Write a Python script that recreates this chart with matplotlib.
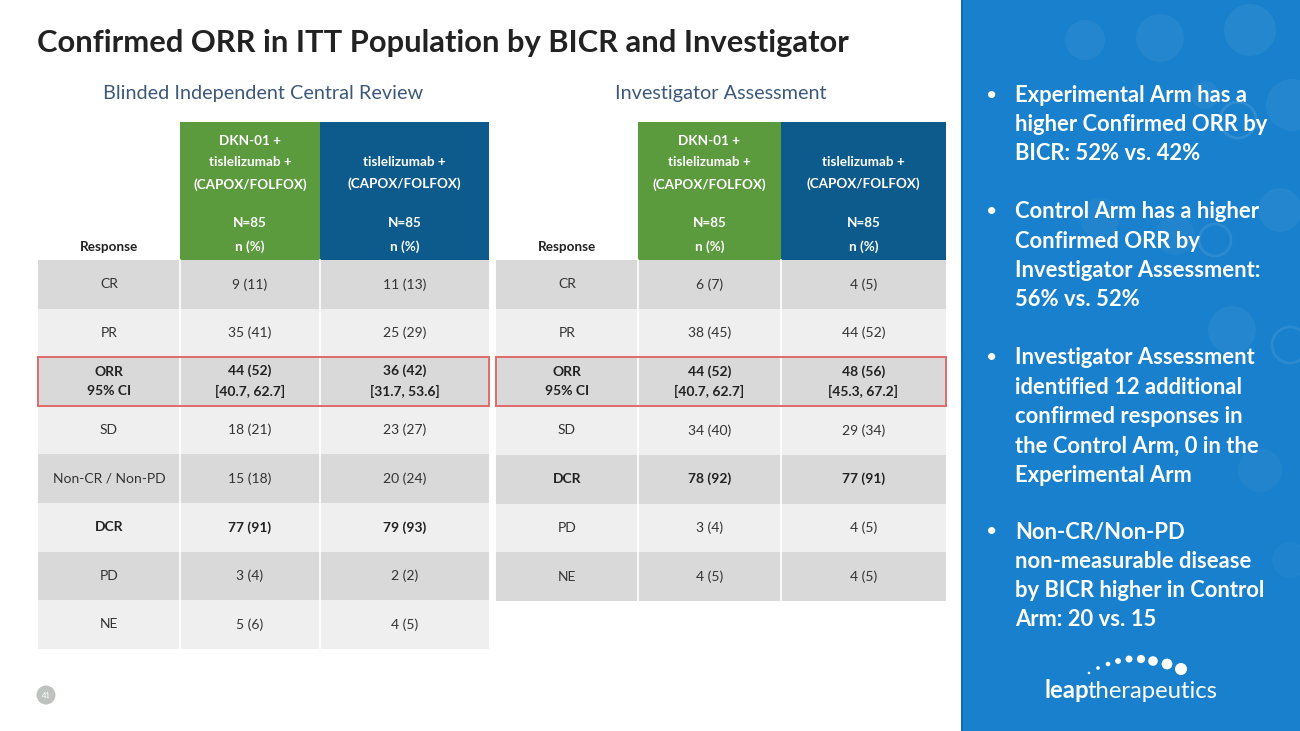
import matplotlib
matplotlib.use("Agg")
import matplotlib.pyplot as plt
from matplotlib.patches import Rectangle, Circle

FONT = ["Lato", "DejaVu Sans"]
plt.rcParams["font.family"] = FONT

# ---------------- data ----------------
title = "Confirmed ORR in ITT Population by BICR and Investigator"
panel_titles = ["Blinded Independent Central Review", "Investigator Assessment"]
header_exp = "DKN-01 +\ntislelizumab +\n(CAPOX/FOLFOX)"
header_ctl = "tislelizumab +\n(CAPOX/FOLFOX)"
header_n = "N=85\nn (%)"

bicr_rows = ["CR", "PR", "ORR\n95% CI", "SD", "Non-CR / Non-PD", "DCR", "PD", "NE"]
bicr_exp = ["9 (11)", "35 (41)", "44 (52)\n[40.7, 62.7]", "18 (21)", "15 (18)", "77 (91)", "3 (4)", "5 (6)"]
bicr_ctl = ["11 (13)", "25 (29)", "36 (42)\n[31.7, 53.6]", "23 (27)", "20 (24)", "79 (93)", "2 (2)", "4 (5)"]

inv_rows = ["CR", "PR", "ORR\n95% CI", "SD", "DCR", "PD", "NE"]
inv_exp = ["6 (7)", "38 (45)", "44 (52)\n[40.7, 62.7]", "34 (40)", "78 (92)", "3 (4)", "4 (5)"]
inv_ctl = ["4 (5)", "44 (52)", "48 (56)\n[45.3, 67.2]", "29 (34)", "77 (91)", "4 (5)", "4 (5)"]

bold_rows = ["ORR\n95% CI", "DCR"]
highlight_row = "ORR\n95% CI"

bullets = [
    "Experimental Arm has a\nhigher Confirmed ORR by\nBICR: 52% vs. 42%",
    "Control Arm has a higher\nConfirmed ORR by\nInvestigator Assessment:\n56% vs. 52%",
    "Investigator Assessment\nidentified 12 additional\nconfirmed responses in\nthe Control Arm, 0 in the\nExperimental Arm",
    "Non-CR/Non-PD\nnon-measurable disease\nby BICR higher in Control\nArm: 20 vs. 15",
]
page_number = "41"

# ---------------- style ----------------
GREEN = "#5b9a3d"
BLUE = "#0d5b8c"
DARK_ROW = "#d9d9d9"
LIGHT_ROW = "#efefef"
TXT = "#333333"
BOLD_TXT = "#222222"
RED = "#e06a6a"
PANEL = "#1880cc"

fig = plt.figure(figsize=(13, 7.31), dpi=100)
ax = fig.add_axes([0, 0, 1, 1])
ax.set_xlim(0, 1300)
ax.set_ylim(731, 0)
ax.axis("off")

# title
ax.text(37, 43, title, fontsize=22.2, fontweight="bold", color="#222222",
        va="center", ha="left")


def draw_table(x_edges, rows, exp, ctl, top_body, row_h, subtitle, sub_x):
    ax.text(sub_x, 93, subtitle, fontsize=14.3, color="#3d5878", ha="center", va="center")
    hdr_top = 122
    x0, x1, x2, x3 = x_edges
    # header cells
    ax.add_patch(Rectangle((x1, hdr_top), x2 - x1, top_body - hdr_top, fc=GREEN, ec="none"))
    ax.add_patch(Rectangle((x2, hdr_top), x3 - x2, top_body - hdr_top, fc=BLUE, ec="none"))
    ax.text((x0 + x1) / 2, 247, "Response", fontsize=9.7, fontweight="bold",
            color=BOLD_TXT, ha="center", va="center")
    ax.text((x1 + x2) / 2, 163, header_exp, fontsize=9.7, fontweight="bold",
            color="white", ha="center", va="center", linespacing=1.9)
    ax.text((x2 + x3) / 2, 173, header_ctl, fontsize=9.7, fontweight="bold",
            color="white", ha="center", va="center", linespacing=1.9)
    for cx in [(x1 + x2) / 2, (x2 + x3) / 2]:
        ax.text(cx, 235, header_n, fontsize=9.7, fontweight="bold",
                color="white", ha="center", va="center", linespacing=2.05)
    # body
    for i, (lab, e, c) in enumerate(zip(rows, exp, ctl)):
        y = top_body + i * row_h
        col = DARK_ROW if i % 2 == 0 else LIGHT_ROW
        ax.add_patch(Rectangle((x0, y), x3 - x0, row_h, fc=col, ec="none"))
        bold = lab in bold_rows
        fw = "bold" if bold else "normal"
        tc = BOLD_TXT if bold else TXT
        for txt, (a, b) in zip([lab, e, c], [(x0, x1), (x1, x2), (x2, x3)]):
            ax.text((a + b) / 2, y + row_h / 2, txt, fontsize=10, fontweight=fw,
                    color=tc, ha="center", va="center", linespacing=1.7)
        if lab == highlight_row:
            ax.add_patch(Rectangle((x0, y), x3 - x0, row_h, fc="none", ec=RED,
                                   lw=1.4, zorder=5))
    bottom = top_body + len(rows) * row_h
    for xv in (x1, x2):
        ax.plot([xv, xv], [top_body, bottom], color="white", lw=1.2, zorder=3)


draw_table((38, 180, 320, 489), bicr_rows, bicr_exp, bicr_ctl, 260, 48.6,
           panel_titles[0], 263)
draw_table((496, 638, 781, 946), inv_rows, inv_exp, inv_ctl, 260, 48.7,
           panel_titles[1], 721)

# page number
ax.add_patch(Circle((46, 695), 9.5, fc="#bfc3bf", ec="none"))
ax.text(46, 695, page_number, fontsize=5.5, color="white", ha="center", va="center")

# right panel
ax.add_patch(Rectangle((961, 0), 339, 731, fc=PANEL, ec="none"))
ax.add_patch(Rectangle((961, 0), 2, 731, fc="#0f6fb5", ec="none"))
bubbles = [(1085, 40, 20, 0.05, True), (1160, 38, 24, 0.05, True), (1250, 30, 26, 0.06, True),
           (1292, 105, 26, 0.05, True), (1238, 120, 18, 0.07, False), (1205, 95, 14, 0.05, True),
           (1280, 210, 22, 0.05, True), (1215, 240, 16, 0.06, False), (1175, 235, 20, 0.04, True),
           (1290, 345, 18, 0.06, False), (1232, 330, 24, 0.05, True), (1100, 218, 20, 0.04, True),
           (1260, 470, 22, 0.04, True), (1290, 560, 18, 0.03, True)]
for bx, by, br, al, filled in bubbles:
    if filled:
        ax.add_patch(Circle((bx, by), br, fc="white", ec="none", alpha=al))
    else:
        ax.add_patch(Circle((bx, by), br, fc="none", ec="white", lw=2, alpha=al * 1.5))

bullet_y = [95, 212, 358, 532]
line_h = 29.3
for by, txt in zip(bullet_y, bullets):
    ax.text(986, by, "•", fontsize=14, color="white", ha="left", va="center")
    for j, line in enumerate(txt.split("\n")):
        ax.text(1015, by + j * line_h, line, fontsize=15.8, fontweight="bold",
                color="white", ha="left", va="center")

# logo
dots = [(1089, 673, 1.3), (1098, 668, 1.8), (1108, 664, 2.3), (1118, 661, 2.9),
        (1129, 659, 3.5), (1141, 659, 4.1), (1153, 661, 4.8), (1167, 664, 5.4), (1181, 669, 6.0)]
for dx, dy, dr in dots:
    ax.add_patch(Circle((dx, dy), dr, fc="white", ec="none"))
t1 = ax.text(1045, 698, "leap", fontsize=17.2, fontweight="bold", color="white",
             ha="left", va="baseline")
fig.canvas.draw()
bb = t1.get_window_extent()
x_end = bb.x1 - 2.5
ax.annotate("therapeutics", xy=(x_end, 731 - 698), xycoords="figure pixels",
            fontsize=17.2, color="white", ha="left", va="baseline")

fig.savefig("out.png", dpi=100)
